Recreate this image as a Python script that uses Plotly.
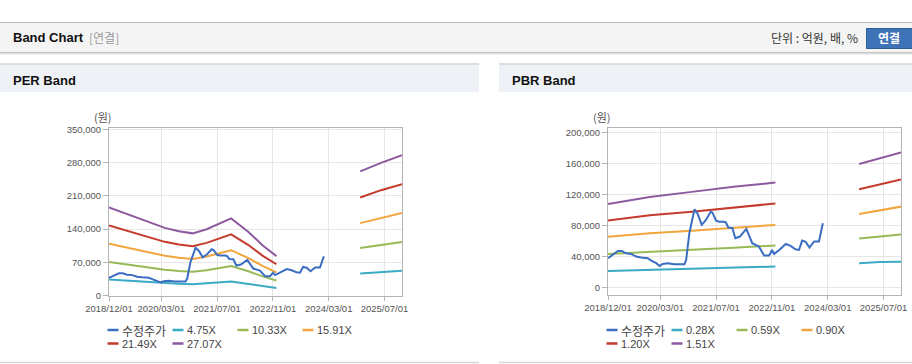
import plotly.graph_objects as go

W, H = 912, 364

# ---------------- data ----------------
band_dates_per = ["2018-12-01", "2019-04-01", "2019-08-01", "2019-12-01", "2020-04-01",
                  "2020-08-01", "2020-12-01", "2021-04-01", "2021-08-01", "2021-11-01",
                  "2022-04-01", "2022-08-01", "2022-12-01"]
future_dates = ["2024-12-01", "2025-06-01", "2025-12-01"]

per_labels = ["4.75X", "10.33X", "15.91X", "21.49X", "27.07X"]
per_475 = [33600, 31700, 29700, 27700, 26000, 24800, 24000, 25500, 27800, 29500, 24500, 19800, 15800]
per_1033 = [70900, 66800, 62400, 58000, 54400, 51700, 50000, 53300, 58400, 62000, 51100, 40400, 31700]
per_1591 = [109200, 102900, 96200, 89300, 83800, 79600, 77000, 82100, 89900, 95500, 78800, 62300, 48800]
per_2149 = [147500, 138900, 129900, 120700, 113100, 107500, 104000, 110900, 121500, 129000, 106400, 84200, 65900]
per_2707 = [185800, 175000, 163600, 152000, 142500, 135400, 131000, 139700, 153000, 162500, 134000, 106000, 83000]
per_475_f = [46400, 49100, 52000]
per_1033_f = [100300, 106900, 113000]
per_1591_f = [152500, 164000, 174000]
per_2149_f = [206500, 222000, 234500]
per_2707_f = [261500, 279500, 295500]

band_dates_pbr = ["2018-12-01", "2019-12-01", "2020-12-01", "2021-12-01", "2022-12-01"]
pbr_labels = ["0.28X", "0.59X", "0.90X", "1.20X", "1.51X"]
pbr_028 = [21000, 22500, 24000, 25200, 26700]
pbr_059 = [43000, 46000, 48500, 51000, 53800]
pbr_090 = [65000, 69500, 73000, 77000, 80400]
pbr_120 = [86000, 93000, 97500, 103000, 108000]
pbr_151 = [107500, 116500, 123000, 129500, 135000]
pbr_028_f = [31000, 32500, 33000]
pbr_059_f = [62800, 65500, 68000]
pbr_090_f = [94600, 99500, 104000]
pbr_120_f = [126500, 133000, 139000]
pbr_151_f = [159000, 166500, 174000]

price_label = "수정주가"
price_dates = ["2018-12-01", "2019-01-13", "2019-02-26", "2019-04-01", "2019-05-07", "2019-06-22",
               "2019-08-04", "2019-09-16", "2019-11-13", "2019-12-13", "2020-01-26", "2020-02-24",
               "2020-03-22", "2020-05-04", "2020-07-01", "2020-09-28", "2020-10-13", "2020-11-10",
               "2020-12-25", "2021-01-22", "2021-02-26", "2021-04-04", "2021-05-16", "2021-06-01",
               "2021-07-01", "2021-07-28", "2021-09-10", "2021-09-25", "2021-10-16", "2021-11-20",
               "2021-12-16", "2022-01-25", "2022-03-22", "2022-05-13", "2022-07-10", "2022-08-25",
               "2022-10-07", "2022-11-01", "2022-11-19", "2023-01-04", "2023-03-01", "2023-04-13",
               "2023-05-25", "2023-06-25", "2023-07-22", "2023-08-22", "2023-09-25", "2023-11-04",
               "2023-12-16", "2024-01-19"]
price_vals = [37400, 41700, 46800, 46800, 43800, 43000,
              39600, 38300, 37400, 34400, 31000, 27500,
              30000, 31000, 29700, 29700, 35300, 69700,
              100600, 94600, 80400, 86800, 97600, 96000,
              85800, 84500, 84500, 83400, 77000, 76500,
              63200, 65400, 75200, 56800, 52500, 40800,
              40800, 48100, 43000, 48100, 55800, 53300,
              49000, 48100, 60200, 58500, 51200, 59000,
              59000, 82500]

x_ticks = ["2018-12-01", "2020-03-01", "2021-07-01", "2022-11-01", "2024-03-01", "2025-07-01"]
x_range = ["2018-12-01", "2025-12-01"]
per_yticks = [0, 70000, 140000, 210000, 280000, 350000]
pbr_yticks = [0, 40000, 80000, 120000, 160000, 200000]

# ---------------- style ----------------
C_PRICE = "#3b6dc1"
C_BANDS = ["#3aabc4", "#98ba56", "#f2a53c", "#c43a2c", "#8d5a9f"]
FONT = "Liberation Sans, Arial, Noto Sans CJK KR, sans-serif"
KFONT = "Noto Sans CJK KR, Liberation Sans, sans-serif"


def px(x):
    return x / W


def py(y):
    return 1 - y / H


fig = go.Figure()

per_past = [per_475, per_1033, per_1591, per_2149, per_2707]
per_fut = [per_475_f, per_1033_f, per_1591_f, per_2149_f, per_2707_f]
pbr_past = [pbr_028, pbr_059, pbr_090, pbr_120, pbr_151]
pbr_fut = [pbr_028_f, pbr_059_f, pbr_090_f, pbr_120_f, pbr_151_f]

for xa, ya, past, fut, bdates in [("x", "y", per_past, per_fut, band_dates_per),
                                  ("x2", "y2", pbr_past, pbr_fut, band_dates_pbr)]:
    for i in range(5):
        fig.add_trace(go.Scatter(x=bdates, y=past[i], mode="lines",
                                 line=dict(color=C_BANDS[i], width=2),
                                 xaxis=xa, yaxis=ya, showlegend=False, hoverinfo="skip"))
        fig.add_trace(go.Scatter(x=future_dates, y=fut[i], mode="lines",
                                 line=dict(color=C_BANDS[i], width=2),
                                 xaxis=xa, yaxis=ya, showlegend=False, hoverinfo="skip"))
    fig.add_trace(go.Scatter(x=price_dates, y=price_vals, mode="lines",
                             line=dict(color=C_PRICE, width=2),
                             xaxis=xa, yaxis=ya, showlegend=False, hoverinfo="skip"))

axis_common = dict(showline=True, mirror=True, linecolor="#b4b4b4", linewidth=1,
                   showgrid=True, gridcolor="#e6e6e6", gridwidth=1, zeroline=False,
                   automargin=False,
                   ticks="outside", tickcolor="#b4b4b4", tickfont=dict(family=FONT, size=9.5, color="#555"))

fig.update_layout(
    width=W, height=H, margin=dict(l=0, r=0, t=0, b=0, pad=0, autoexpand=False),
    paper_bgcolor="white", plot_bgcolor="white", showlegend=False,
    xaxis=dict(domain=[px(109), px(402)], anchor="y", type="date", range=x_range,
               tickvals=x_ticks, tickformat="%Y/%m/%d", ticklen=4, **axis_common),
    yaxis=dict(domain=[py(296), py(128)], anchor="x", range=[-1000, 353000],
               tickvals=per_yticks, tickformat=",d", ticklen=5, **axis_common),
    xaxis2=dict(domain=[px(608), px(901)], anchor="y2", type="date", range=x_range,
                tickvals=x_ticks, tickformat="%Y/%m/%d", ticklen=4, **axis_common),
    yaxis2=dict(domain=[py(295), py(128.3)], anchor="x2", range=[-10000, 205000],
                tickvals=pbr_yticks, tickformat=",d", ticklen=5, **axis_common),
)

shapes = []
# top line + header bar
shapes.append(dict(type="rect", xref="paper", yref="paper", x0=0, x1=1, y0=py(52), y1=py(22.5),
                   fillcolor="#f4f4f4", line=dict(width=0), layer="below"))
shapes.append(dict(type="line", xref="paper", yref="paper", x0=0, x1=1, y0=py(22.5), y1=py(22.5),
                   line=dict(color="#bcbcbc", width=1)))
for yy, cc in [(52.5, "#c4c4c4"), (53.5, "#dedede"), (54.5, "#efefef")]:
    shapes.append(dict(type="line", xref="paper", yref="paper", x0=0, x1=1, y0=py(yy), y1=py(yy),
                       line=dict(color=cc, width=1)))
# panel headers
for x0, x1 in [(0, 479), (499, 912)]:
    shapes.append(dict(type="rect", xref="paper", yref="paper", x0=px(x0), x1=px(x1), y0=py(92), y1=py(64),
                       fillcolor="#eef2f7", line=dict(width=0), layer="below"))
    shapes.append(dict(type="line", xref="paper", yref="paper", x0=px(x0), x1=px(x1), y0=py(64), y1=py(64),
                       line=dict(color="#d3d3d3", width=1.5)))
    shapes.append(dict(type="line", xref="paper", yref="paper", x0=px(x0), x1=px(x1), y0=py(362.5), y1=py(362.5),
                       line=dict(color="#d6d6d6", width=1.5)))
# button
shapes.append(dict(type="rect", xref="paper", yref="paper", x0=px(866.5), x1=px(915), y0=py(48.5), y1=py(28.5),
                   fillcolor="#3f73b7", line=dict(color="#2f5d9a", width=1)))

annotations = []


def txt(x, y, s, size=12, color="#333", bold=False, xanchor="left", family=FONT):
    annotations.append(dict(xref="paper", yref="paper", x=px(x), y=py(y), text=("<b>%s</b>" % s) if bold else s,
                            showarrow=False, xanchor=xanchor, yanchor="middle",
                            font=dict(family=family, size=size, color=color)))


txt(11, 38, "Band Chart", size=13, color="#111", bold=True)
txt(87, 38, "[연결]", size=12, color="#999", family=KFONT)
txt(860, 38, "단위 : 억원, 배, %", size=12, color="#333", xanchor="right", family=KFONT)
txt(889, 38, "연결", size=12, color="white", bold=True, xanchor="center", family=KFONT)
txt(11, 80, "PER Band", size=13, color="#111", bold=True)
txt(510, 80, "PBR Band", size=13, color="#111", bold=True)
txt(103, 117, "(원)", size=11, color="#555", xanchor="center", family=KFONT)
txt(602, 117, "(원)", size=11, color="#555", xanchor="center", family=KFONT)


# legends
def legend(x_start, labels, colors):
    for k, (lab, col) in enumerate(zip(labels, colors)):
        row, colm = divmod(k, 4)
        lx = x_start + colm * 65
        ly = 330 + row * 13.5
        shapes.append(dict(type="line", xref="paper", yref="paper", x0=px(lx), x1=px(lx + 11),
                           y0=py(ly), y1=py(ly), line=dict(color=col, width=2.5)))
        txt(lx + 12, ly, lab, size=11 if k else 12, color="#444", family=FONT if k else KFONT)


legend(107.5, [price_label] + per_labels, [C_PRICE] + C_BANDS)
legend(606.5, [price_label] + pbr_labels, [C_PRICE] + C_BANDS)

fig.update_layout(shapes=shapes, annotations=annotations)
fig.write_html("out.html", config={"displayModeBar": False},
               post_script="document.body.style.margin='0';document.body.style.overflow='hidden';")
